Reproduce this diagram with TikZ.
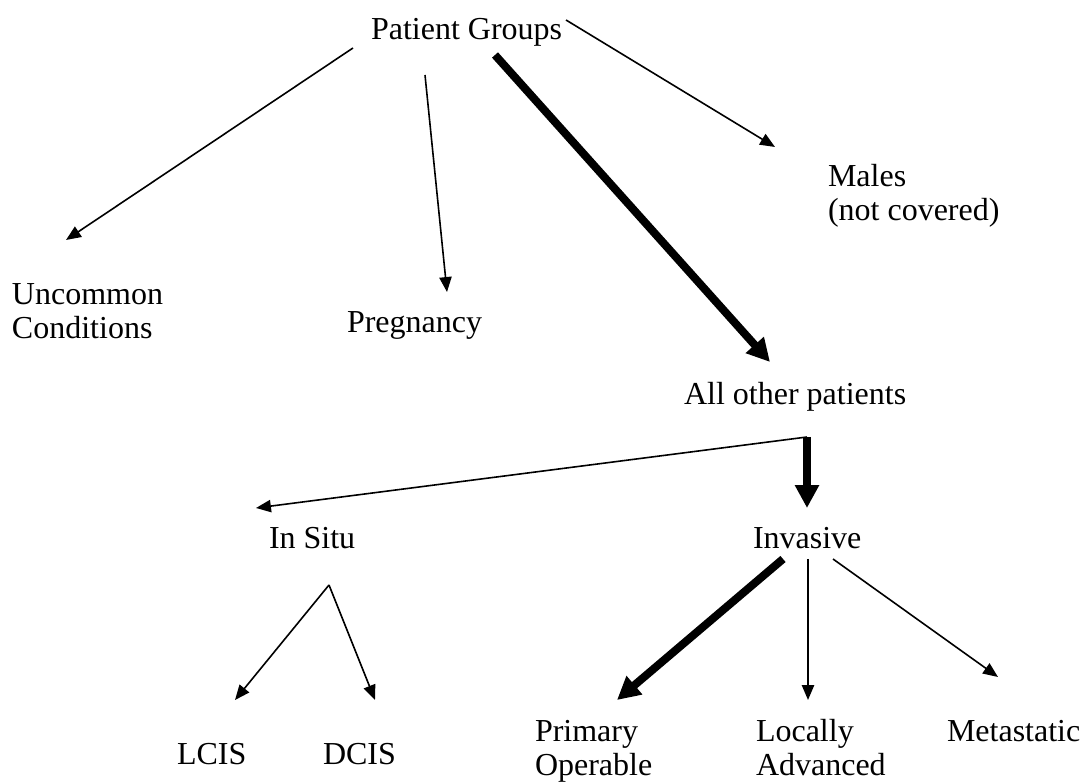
\documentclass[tikz,border=0pt]{standalone}
\usepackage{fontspec}
\setmainfont{Liberation Serif}
\usetikzlibrary{arrows.meta}

\begin{document}
\begin{tikzpicture}[x=0.375pt,y=-0.375pt,
	every node/.style={inner sep=0pt,outer sep=0pt,anchor=base west,font=\fontsize{12}{12.75}\selectfont},
	twoline/.style={align=left},
	thinarrow/.style={line width=0.6pt,-{Triangle[length=5.6pt,width=4.6pt]}},
	thickarrow/.style={line width=3pt,-{Triangle[length=8.6pt,width=8.6pt]}}]
	\useasboundingbox (0,0) rectangle (1084,782);
	\node (pg) at (371,40) {Patient Groups};
	\node[twoline] (unc) at (12,339) {Uncommon\\Conditions};
	\node (preg) at (347,333) {Pregnancy};
	\node[twoline] (males) at (828,221) {Males\\(not covered)};
	\node (allp) at (684,405) {All other patients};
	\node (insitu) at (269,549) {In Situ};
	\node (inv) at (753,549) {Invasive};
	\node (lcis) at (177,764) {LCIS};
	\node (dcis) at (323,764) {DCIS};
	\node[twoline] (prim) at (535,775) {Primary\\Operable};
	\node[twoline] (loc) at (756,775) {Locally\\Advanced};
	\node (meta) at (947,741) {Metastatic};
	\draw[thinarrow] ([shift={(-18,8)}]pg.base west) -- ([shift={(54,-99)}]unc.base west);
	\draw[thinarrow] ([shift={(54,35)}]pg.base west) -- ([shift={(100,-41)}]preg.base west);
	\draw[thickarrow] ([shift={(124,15)}]pg.base west) -- ([shift={(86,-43)}]allp.base west);
	\draw[thinarrow] ([shift={(195,-20)}]pg.base west) -- ([shift={(-53,-74)}]males.base west);
	\draw[thinarrow] ([shift={(123,32)}]allp.base west) -- ([shift={(-13,-41)}]insitu.base west);
	\draw[thickarrow] ([shift={(123,32)}]allp.base west) -- ([shift={(54,-41)}]inv.base west);
	\draw[thinarrow] ([shift={(60,36)}]insitu.base west) -- ([shift={(58,-64)}]lcis.base west);
	\draw[thinarrow] ([shift={(60,36)}]insitu.base west) -- ([shift={(52,-64)}]dcis.base west);
	\draw[thickarrow] ([shift={(30,10)}]inv.base west) -- ([shift={(82,-75)}]prim.base west);
	\draw[thinarrow] ([shift={(55,10)}]inv.base west) -- ([shift={(52,-75)}]loc.base west);
	\draw[thinarrow] ([shift={(80,10)}]inv.base west) -- ([shift={(51,-64)}]meta.base west);
\end{tikzpicture}
\end{document}
